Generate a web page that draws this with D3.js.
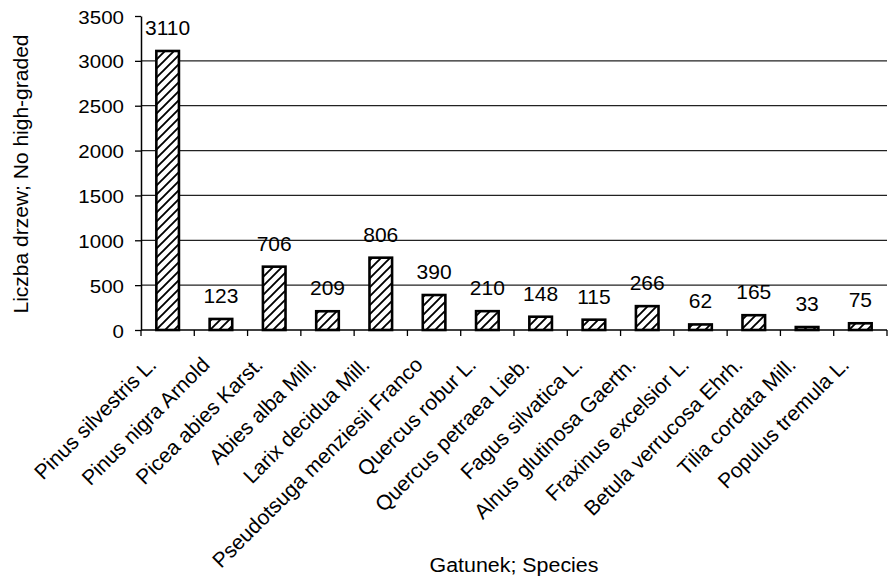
<!DOCTYPE html>
<html>
<head>
<meta charset="utf-8">
<script src="https://cdn.jsdelivr.net/npm/d3@7"></script>
<style>
  html, body { margin: 0; padding: 0; background: #fff; }
  svg { display: block; }
  text { font-family: "Liberation Sans", Arial, sans-serif; fill: #000; }
</style>
</head>
<body>
<svg id="chart" width="891" height="582"></svg>
<script>
// Species (category axis)
const species = [
  "Pinus silvestris L.",
  "Pinus nigra Arnold",
  "Picea abies Karst.",
  "Abies alba Mill.",
  "Larix decidua Mill.",
  "Pseudotsuga menziesii Franco",
  "Quercus robur L.",
  "Quercus petraea Lieb.",
  "Fagus silvatica L.",
  "Alnus glutinosa Gaertn.",
  "Fraxinus excelsior L.",
  "Betula verrucosa Ehrh.",
  "Tilia cordata Mill.",
  "Populus tremula L."
];

// Number of trees per species
const treeCounts = [3110, 123, 706, 209, 806, 390, 210, 148, 115, 266, 62, 165, 33, 75];

// Value axis ticks
const yTicks = [0, 500, 1000, 1500, 2000, 2500, 3000, 3500];

const yTitle = "Liczba drzew; No high-graded";
const xTitle = "Gatunek; Species";

const svg = d3.select("#chart");

const plotLeft = 141, plotRight = 887, plotTop = 16, plotBottom = 330;

const x = d3.scaleBand()
  .domain(species)
  .range([plotLeft, plotRight])
  .paddingInner(0.576)
  .paddingOuter(0.288);

const y = d3.scaleLinear()
  .domain([0, 3500])
  .range([plotBottom, plotTop]);

const step = x.step();

// diagonal hatch fill for the bars
const defs = svg.append("defs");
const pat = defs.append("pattern")
  .attr("id", "hatch")
  .attr("patternUnits", "userSpaceOnUse")
  .attr("width", 9)
  .attr("height", 9);
pat.append("rect").attr("width", 9).attr("height", 9).attr("fill", "#fff");
pat.append("path")
  .attr("d", "M-1,1 L1,-1 M0,9 L9,0 M8,10 L10,8")
  .attr("stroke", "#000")
  .attr("stroke-width", 1.9);

// horizontal gridlines
svg.append("g")
  .selectAll("line")
  .data(yTicks.filter(v => v > 0 && v < 3500))
  .join("line")
  .attr("x1", plotLeft)
  .attr("x2", plotRight)
  .attr("y1", d => y(d))
  .attr("y2", d => y(d))
  .attr("stroke", "#222")
  .attr("stroke-width", 1.2);

// bars
svg.append("g")
  .selectAll("rect")
  .data(treeCounts)
  .join("rect")
  .attr("x", (d, i) => x(species[i]))
  .attr("y", d => y(d))
  .attr("width", x.bandwidth())
  .attr("height", d => plotBottom - y(d))
  .attr("fill", "url(#hatch)")
  .attr("stroke", "#000")
  .attr("stroke-width", 2.6);

// value labels above bars
svg.append("g")
  .selectAll("text")
  .data(treeCounts)
  .join("text")
  .attr("transform", (d, i) =>
    `translate(${x(species[i]) + x.bandwidth() / 2},${y(d) - 16}) scale(1.05,1)`)
  .attr("text-anchor", "middle")
  .attr("font-size", 20)
  .text(d => d);

// value axis
const yAxis = svg.append("g")
  .attr("transform", `translate(${plotLeft},0)`)
  .call(d3.axisLeft(y).tickValues(yTicks).tickSize(6).tickSizeOuter(0).tickFormat(d3.format("d")));
yAxis.select(".domain").attr("stroke", "#000").attr("stroke-width", 1.5);
yAxis.selectAll(".tick line").attr("stroke", "#000").attr("stroke-width", 1.3);
yAxis.selectAll(".tick text")
  .attr("font-size", 19)
  .attr("font-family", "Liberation Sans, Arial, sans-serif")
  .attr("fill", "#000")
  .attr("x", null)
  .attr("dy", null)
  .attr("text-anchor", "end")
  .attr("transform", "translate(-17,7) scale(1.08,1)");

// category axis: baseline and ticks at band boundaries
const xAxis = svg.append("g");
xAxis.append("line")
  .attr("x1", plotLeft).attr("x2", plotRight)
  .attr("y1", plotBottom).attr("y2", plotBottom)
  .attr("stroke", "#000").attr("stroke-width", 1.5);
const boundaries = species.map(s => x(s) - step * x.paddingInner() / 2).concat([plotRight]);
xAxis.selectAll("line.tick")
  .data(boundaries)
  .join("line")
  .attr("class", "tick")
  .attr("x1", d => d).attr("x2", d => d)
  .attr("y1", plotBottom).attr("y2", plotBottom + 6)
  .attr("stroke", "#000").attr("stroke-width", 1.3);

// rotated species labels
xAxis.selectAll("text")
  .data(species)
  .join("text")
  .attr("transform", d =>
    `translate(${x(d) + x.bandwidth() / 2 - 10},366) rotate(-45)`)
  .attr("text-anchor", "end")
  .attr("font-size", 21)
  .text(d => d);

// axis titles
svg.append("text")
  .attr("transform", "translate(28,174) rotate(-90)")
  .attr("text-anchor", "middle")
  .attr("font-size", 21)
  .text(yTitle);

svg.append("text")
  .attr("transform", `translate(${(plotLeft + plotRight) / 2},572) scale(1.07,1)`)
  .attr("text-anchor", "middle")
  .attr("font-size", 20)
  .text(xTitle);
</script>
</body>
</html>
